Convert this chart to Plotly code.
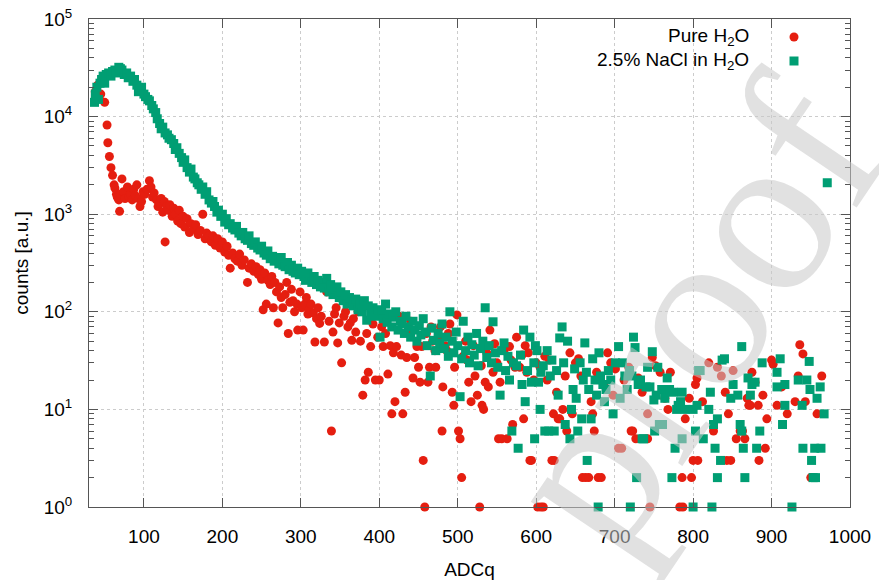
import plotly.graph_objects as go

# ---------------- data ----------------
pure_h2o = [
    (38, 1.8e4), (41, 2.1e4), (45, 1.7e4), (50, 1.4e4), (53, 8.2e3), (54, 5.4e3), (56, 3.9e3),
    (58, 3.0e3), (60, 2.5e3), (62, 2.0e3), (63, 1.85e3), (65, 1.6e3), (66, 1.5e3), (68, 1.4e3),
    (69, 1.07e3), (70, 1.6e3), (72, 2.3e3), (74, 1.7e3), (76, 1.45e3), (79, 1.9e3), (81, 1.5e3),
    (83, 1.6e3), (85, 1.4e3), (87, 1.8e3), (89, 1.55e3), (91, 2.0e3), (93, 1.45e3), (95, 1.2e3),
    (97, 1.35e3), (99, 1.7e3), (101, 1.6e3), (104, 1.8e3), (107, 2.2e3), (109, 1.9e3), (111, 1.5e3),
    (113, 1.65e3), (116, 1.4e3), (118, 1.2e3), (120, 1.3e3), (122, 1.45e3), (124, 1.05e3),
    (126, 1.35e3), (127, 520), (129, 1.2e3), (131, 1.1e3), (133, 1.25e3), (136, 950), (138, 1.15e3),
    (140, 1.0e3), (143, 850), (145, 1.1e3), (147, 800), (150, 950), (152, 740), (155, 900),
    (158, 650), (160, 800), (163, 700), (166, 780), (169, 620), (172, 680), (175, 1.0e3),
    (178, 560), (180, 640), (183, 600), (186, 520), (188, 600), (191, 480), (194, 560), (197, 450),
    (200, 520), (203, 410), (206, 470), (208, 380), (210, 280), (213, 400), (216, 350), (219, 330),
    (222, 390), (225, 300), (228, 340), (232, 200), (234, 280), (237, 310), (240, 260), (243, 290),
    (246, 240), (248, 270), (250, 215), (252, 105), (254, 250), (256, 120), (258, 210), (261, 190),
    (263, 230), (265, 110), (267, 200), (269, 160), (271, 77), (273, 180), (275, 140), (277, 110),
    (280, 150), (282, 200), (284, 60), (286, 125), (288, 170), (290, 130), (292, 100), (295, 120),
    (296, 65), (299, 160), (301, 110), (303, 65), (305, 120), (307, 140), (309, 95), (311, 105),
    (313, 120), (316, 97), (318, 49), (320, 85), (322, 110), (324, 76), (326, 90), (330, 49),
    (333, 160), (336, 80), (339, 6), (341, 62), (343, 95), (345, 110), (347, 48), (349, 77),
    (352, 30), (355, 90), (357, 100), (360, 70), (363, 77), (365, 51), (367, 85), (370, 62),
    (373, 100), (376, 50), (379, 14), (382, 20), (384, 60), (386, 24), (389, 44), (392, 75),
    (395, 20), (398, 55), (400, 20), (403, 70), (405, 44), (408, 60), (411, 23), (414, 45),
    (416, 9), (418, 38), (420, 12), (422, 44), (425, 90), (428, 36), (430, 9), (433, 15), (435, 34),
    (438, 60), (440, 80), (443, 21), (445, 34), (448, 44), (450, 27), (452, 19), (454, 44),
    (456, 3), (458, 1), (460, 60), (462, 19), (464, 27), (466, 70), (468, 50), (471, 40), (472, 27),
    (475, 55), (478, 70), (480, 6), (481, 17), (484, 45), (486, 40), (488, 60), (490, 75),
    (493, 15), (495, 11), (496, 27), (499, 93), (501, 6), (503, 5), (505, 2), (507, 35), (510, 50),
    (512, 32), (514, 19), (517, 12), (520, 45), (522, 22), (525, 14), (528, 1), (530, 28),
    (531, 11), (533, 10), (535, 19), (537, 38), (539, 17), (541, 65), (545, 24), (547, 47),
    (550, 30), (552, 5), (554, 19), (556, 5), (559, 40), (563, 5), (566, 44), (568, 32), (570, 7),
    (573, 27), (575, 55), (579, 27), (582, 36), (584, 8), (586, 45), (588, 24), (590, 38),
    (592, 3), (594, 3), (597, 20), (600, 30), (602, 1), (605, 27), (606, 1), (609, 1), (611, 35),
    (614, 20), (617, 32), (620, 3), (622, 9), (623, 3), (626, 15), (628, 8), (630, 8), (634, 10),
    (637, 22), (639, 6), (643, 38), (646, 9), (650, 30), (654, 33), (657, 22), (659, 2), (663, 2),
    (667, 2), (670, 12), (672, 9), (674, 6), (677, 24), (679, 2), (683, 2), (686, 18), (691, 38),
    (695, 30), (698, 14), (701, 26), (705, 4), (709, 4), (712, 20), (718, 27), (721, 6), (723, 6),
    (727, 5), (730, 21), (735, 15), (742, 5), (742, 9), (745, 1), (748, 34), (752, 28), (758, 24),
    (764, 13), (768, 10), (771, 24), (783, 1), (786, 2), (787, 1), (790, 8), (795, 13), (798, 2),
    (800, 3), (803, 18), (805, 21), (806, 3), (812, 12), (820, 30), (826, 6), (831, 27), (836, 22),
    (841, 15), (843, 3), (845, 9), (848, 3), (851, 25), (855, 5), (860, 6), (863, 6), (866, 5),
    (869, 13), (871, 11), (873, 11), (875, 24), (879, 19), (883, 11), (884, 3), (889, 14),
    (892, 4), (894, 8), (900, 32), (902, 29), (907, 11), (913, 17), (920, 9), (930, 12),
    (934, 22), (936, 46), (940, 37), (943, 12), (950, 2), (953, 2), (958, 9), (964, 22),
]

nacl_h2o = [
    (37, 1.4e4), (38, 1.7e4), (40, 2.0e4), (42, 1.5e4), (44, 2.2e4), (46, 2.4e4), (48, 2.6e4),
    (50, 2.2e4), (52, 2.7e4), (55, 2.8e4), (58, 2.6e4), (60, 2.9e4), (63, 3.0e4), (65, 2.8e4),
    (68, 3.2e4), (70, 3.1e4), (72, 3.0e4), (75, 2.7e4), (78, 2.8e4), (80, 2.5e4), (83, 2.6e4),
    (86, 2.3e4), (88, 2.4e4), (91, 2.1e4), (93, 1.8e4), (95, 1.9e4), (97, 2.0e4), (100, 1.7e4),
    (102, 1.6e4), (105, 1.5e4), (107, 1.45e4), (110, 1.3e4), (112, 1.2e4), (115, 1.1e4),
    (117, 9.5e3), (120, 8.5e3), (122, 7.5e3), (124, 7.8e3), (127, 6.8e3), (130, 6.5e3),
    (132, 6.0e3), (135, 5.8e3), (138, 5.3e3), (140, 4.6e3), (142, 4.8e3), (145, 4.2e3),
    (148, 3.8e3), (150, 3.4e3), (152, 3.6e3), (155, 3.0e3), (158, 2.7e3), (160, 2.9e3),
    (163, 2.4e3), (165, 2.3e3), (168, 2.1e3), (170, 2.0e3), (173, 1.8e3), (175, 1.9e3),
    (178, 1.6e3), (180, 1.7e3), (183, 1.4e3), (186, 1.3e3), (188, 1.35e3), (190, 1.2e3),
    (193, 1.05e3), (195, 1.1e3), (198, 950), (200, 1.0e3), (203, 830), (205, 900), (208, 780),
    (210, 800), (213, 720), (216, 690), (218, 750), (221, 640), (224, 600), (226, 650), (229, 560),
    (232, 540), (234, 600), (237, 500), (240, 480), (242, 520), (245, 450), (248, 430), (250, 470),
    (253, 400), (256, 380), (258, 420), (261, 350), (264, 370), (266, 330), (269, 340), (272, 310),
    (275, 360), (277, 300), (280, 290), (283, 320), (285, 270), (288, 300), (290, 260), (293, 250),
    (296, 280), (298, 240), (301, 260), (304, 230), (306, 210), (309, 250), (312, 220), (314, 200),
    (317, 230), (320, 190), (322, 210), (325, 180), (328, 200), (330, 175), (333, 220), (336, 160),
    (338, 190), (341, 150), (343, 170), (346, 180), (349, 140), (351, 160), (354, 130), (357, 150),
    (359, 120), (362, 140), (365, 125), (367, 115), (370, 135), (373, 105), (375, 120), (378, 100),
    (381, 130), (384, 82), (386, 115), (389, 95), (392, 110), (395, 90), (398, 105), (401, 55),
    (403, 100), (405, 85), (408, 120), (410, 78), (413, 95), (416, 70), (418, 88), (421, 100),
    (424, 65), (427, 80), (429, 75), (432, 60), (434, 90), (437, 70), (440, 55), (443, 80),
    (445, 65), (448, 50), (451, 72), (453, 58), (456, 85), (459, 62), (461, 45), (465, 22),
    (467, 68), (469, 51), (472, 40), (475, 60), (477, 48), (480, 75), (483, 42), (485, 55),
    (488, 35), (490, 100), (493, 50), (495, 38), (498, 62), (500, 45), (503, 13.5), (505, 33),
    (507, 80), (510, 40), (513, 55), (515, 30), (518, 46), (521, 36), (524, 60), (526, 28),
    (529, 42), (532, 50), (535, 110), (537, 34), (540, 45), (543, 30), (545, 79), (548, 38),
    (551, 27), (554, 14), (556, 40), (559, 48), (561, 25), (564, 35), (566, 20), (569, 6),
    (571, 30), (575, 28), (577, 4), (580, 36), (582, 18), (584, 65), (586, 12), (589, 25),
    (592, 55), (594, 19), (597, 30), (598, 5), (599, 45), (601, 40), (603, 19), (605, 10),
    (606, 24), (609, 28), (611, 6), (614, 40), (616, 6), (618, 22), (620, 32), (623, 6), (626, 25),
    (628, 14), (630, 54), (633, 70), (635, 30), (637, 7), (640, 50), (643, 5), (645, 10),
    (647, 16), (649, 26), (651, 13), (653, 6), (656, 30), (658, 8), (660, 20), (662, 48),
    (664, 24), (665, 3), (667, 16), (670, 8), (672, 33), (675, 20), (677, 14), (679, 1), (680, 38),
    (682, 22), (685, 18), (687, 12), (689, 16), (692, 25), (695, 20), (698, 9), (701, 30),
    (705, 44), (707, 13), (710, 30), (713, 22), (716, 16), (719, 25), (720, 1), (722, 22),
    (724, 55), (726, 43), (728, 2), (730, 18), (733, 20), (735, 5), (737, 5), (740, 17), (742, 27),
    (745, 17), (748, 39), (750, 12.5), (751, 6), (753, 14), (755, 27), (757, 7), (760, 16),
    (761, 7), (764, 13), (767, 21), (770, 16), (773, 2), (775, 15), (777, 4), (779, 10), (781, 11),
    (784, 12), (786, 15), (786, 5), (790, 10), (800, 1), (800, 10), (803, 6), (805, 11), (807, 25),
    (809, 25), (813, 5), (820, 10), (822, 15), (824, 1), (826, 7), (828, 4), (831, 8), (831, 2),
    (835, 3), (837, 32), (840, 33), (848, 13), (851, 18), (857, 14), (860, 7), (862, 6), (862, 44),
    (864, 4), (866, 2), (870, 21), (873, 14), (875, 18), (879, 19), (881, 4), (885, 6), (888, 30),
    (907, 24), (907, 17), (911, 33), (914, 7), (917, 18), (917, 11), (926, 1), (934, 20),
    (939, 11), (940, 4), (945, 20), (948, 31), (949, 16), (951, 3), (953, 2), (955, 4), (956, 2),
    (958, 13), (962, 17), (963, 4), (967, 9), (971, 2100),
]

series_names = ["Pure H<sub>2</sub>O", "2.5% NaCl in H<sub>2</sub>O"]
x_tickvals = [100, 200, 300, 400, 500, 600, 700, 800, 900, 1000]
y_tickvals = [1, 10, 100, 1000, 10000, 100000]
y_ticktext = ["10<sup>0</sup>", "10<sup>1</sup>", "10<sup>2</sup>",
              "10<sup>3</sup>", "10<sup>4</sup>", "10<sup>5</sup>"]

pure_x = [p[0] for p in pure_h2o]
pure_y = [p[1] for p in pure_h2o]
nacl_x = [p[0] for p in nacl_h2o]
nacl_y = [p[1] for p in nacl_h2o]

RED = "#e51e10"
GREEN = "#009e73"
AXC = "#555555"
FONT = "Liberation Sans, Arial, sans-serif"

fig = go.Figure()
fig.add_trace(go.Scatter(x=pure_x, y=pure_y, mode="markers", name=series_names[0],
                         marker=dict(symbol="circle", size=9, color=RED, line=dict(width=0)),
                         cliponaxis=False, showlegend=False))
fig.add_trace(go.Scatter(x=nacl_x, y=nacl_y, mode="markers", name=series_names[1],
                         marker=dict(symbol="square", size=9, color=GREEN, line=dict(width=0)),
                         cliponaxis=False, showlegend=False))

# plot-area geometry (px)
W, H = 879, 580
L, R, T, B = 89, 29, 19, 73
PW, PH = W - L - R, H - T - B

def px2paper(px, py):
    return (px - L) / PW, (H - B - py) / PH

# custom gnuplot-like key: text right-aligned, symbol to its right
key_rows = [(37, series_names[0], "circle", RED), (61, series_names[1], "square", GREEN)]
for py, txt, sym, col in key_rows:
    tx, ty = px2paper(751, py)
    fig.add_annotation(x=tx, y=ty, xref="paper", yref="paper", text=txt, showarrow=False,
                       xanchor="right", yanchor="middle", font=dict(size=19, color="#000", family=FONT))
    mx, my = px2paper(794, py)
    dx, dy = 4.5 / PW, 4.5 / PH
    shape_type = "circle" if sym == "circle" else "rect"
    fig.add_shape(type=shape_type, xref="paper", yref="paper", x0=mx - dx, x1=mx + dx,
                  y0=my - dy, y1=my + dy, fillcolor=col, line=dict(width=0))

# watermark
wx, wy = px2paper(690, 315)
fig.add_annotation(x=wx, y=wy, xref="paper", yref="paper", text="proof", showarrow=False,
                   xanchor="center", yanchor="middle", textangle=-56,
                   font=dict(size=230, color="rgba(200,200,200,0.55)",
                             family="Liberation Serif, DejaVu Serif, serif"))

fig.update_layout(
    width=W, height=H,
    margin=dict(l=L, r=R, t=T, b=B, autoexpand=False),
    paper_bgcolor="white", plot_bgcolor="white",
    font=dict(family=FONT, size=19, color="#000"),
    showlegend=False,
)
fig.update_xaxes(
    range=[30, 1000], tickvals=x_tickvals, ticks="inside", ticklen=9, tickcolor=AXC,
    showline=True, linecolor=AXC, linewidth=1, mirror="allticks", automargin=False,
    showgrid=True, gridcolor="#cccccc", griddash="dot", gridwidth=1, zeroline=False,
    ticklabelstandoff=12,
    title=dict(text="ADCq", standoff=18, font=dict(size=19)),
)
fig.update_yaxes(
    type="log", range=[0, 5], tickvals=y_tickvals, ticktext=y_ticktext,
    ticks="inside", ticklen=9, tickcolor=AXC, automargin=False,
    showline=True, linecolor=AXC, linewidth=1, mirror="allticks",
    showgrid=True, gridcolor="#cccccc", griddash="dot", gridwidth=1, zeroline=False,
    minor=dict(ticks="inside", ticklen=5, tickcolor=AXC, dtick="D1", showgrid=False),
    ticklabelstandoff=12,
    title=dict(text="counts [a.u.]", standoff=10, font=dict(size=19)),
)

fig.write_html("out.html")
